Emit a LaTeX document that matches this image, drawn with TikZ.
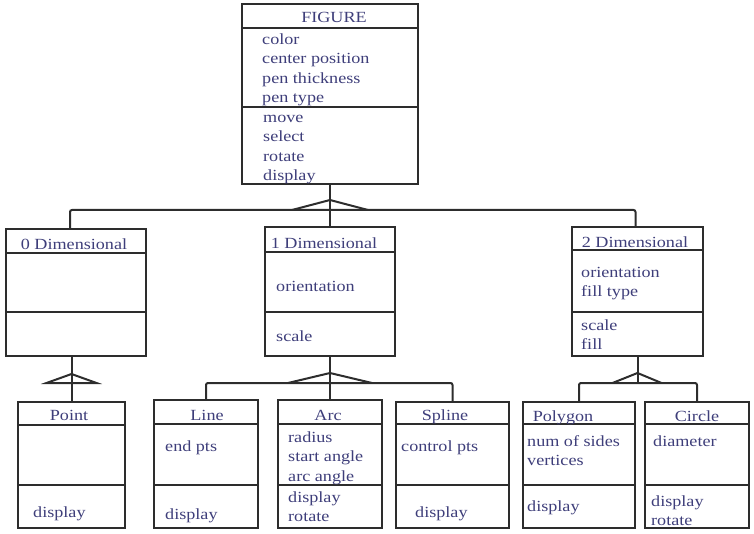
\documentclass[tikz,border=0pt]{standalone}
\usepackage{fontspec}
\setmainfont{Liberation Serif}[FakeStretch=1.17]
\definecolor{tc}{RGB}{62,62,122}
\definecolor{lc}{RGB}{45,45,45}
\tikzset{
  cls/.style={draw=lc, line width=1.7pt, rectangle, inner sep=0pt, outer sep=0pt},
  sepline/.style={draw=lc, line width=1.5pt},
  conn/.style={draw=lc, line width=2pt},
  txt/.style={text=tc, inner sep=0pt, anchor=north west, align=left, font=\fontsize{15.5}{19.5}\selectfont},
  ttl/.style={text=tc, inner sep=0pt, anchor=base, font=\fontsize{15.5}{19.5}\selectfont},
}
\newcommand\clsbox[7]{%
  \node[cls, minimum width={#4-#2}, minimum height={#5-#3}, anchor=north west] (#1) at (#2,#3) {};
  \draw[sepline] (#2,#6) -- (#4,#6);
  \draw[sepline] (#2,#7) -- (#4,#7);}
\newcommand\clstext[4]{\node[txt] (#1) at (#2,{#3-13.65}) {#4};}
\begin{document}
\begin{tikzpicture}[x=1pt,y=-1pt]
\useasboundingbox (0,0) rectangle (754,534);
% boxes
\clsbox{c-figure}{242}{4}{418}{184}{28}{107}
\clsbox{c-zero}{6}{229}{146}{356}{253}{312}
\clsbox{c-one}{265}{227}{395}{356}{252}{312}
\clsbox{c-two}{572}{227}{703}{356}{250}{312}
\clsbox{c-point}{18}{402}{125}{528}{425}{485}
\clsbox{c-line}{154}{400}{258}{528}{424}{485}
\clsbox{c-arc}{278}{400}{382}{528}{424}{485}
\clsbox{c-spline}{396}{402}{509}{528}{424}{485}
\clsbox{c-polygon}{523}{402}{635}{528}{424}{485}
\clsbox{c-circle}{645}{402}{749}{528}{424}{485}
% texts
\node[ttl] (t-figure) at (334,23) {FIGURE};
\clstext{a-figure}{262}{44}{\strut color\\\strut center position\\\strut pen thickness\\\strut pen type}
\clstext{m-figure}{263}{122}{\strut move\\\strut select\\\strut rotate\\\strut display}
\node[ttl] (t-zero) at (74,250) {0 Dimensional};
\node[ttl] (t-one) at (324,249) {1 Dimensional};
\clstext{a-one}{276}{291}{\strut orientation}
\clstext{m-one}{276}{341}{\strut scale}
\node[ttl] (t-two) at (635,248) {2 Dimensional};
\clstext{a-two}{581}{277}{\strut orientation\\\strut fill type}
\clstext{m-two}{581}{330}{\strut scale\\\strut fill}
\node[ttl] (t-point) at (69,420) {Point};
\clstext{m-point}{33}{517}{\strut display}
\node[ttl] (t-line) at (207,420) {Line};
\clstext{a-line}{165}{451}{\strut end pts}
\clstext{m-line}{165}{519}{\strut display}
\node[ttl] (t-arc) at (328,420) {Arc};
\clstext{a-arc}{288}{442}{\strut radius\\\strut start angle\\\strut arc angle}
\clstext{m-arc}{288}{502}{\strut display\\\strut rotate}
\node[ttl] (t-spline) at (445,420) {Spline};
\clstext{a-spline}{401}{451}{\strut control pts}
\clstext{m-spline}{415}{517}{\strut display}
\node[ttl] (t-polygon) at (563,421) {Polygon};
\clstext{a-polygon}{527}{446}{\strut num of sides\\\strut vertices}
\clstext{m-polygon}{527}{511}{\strut display}
\node[ttl] (t-circle) at (697,421) {Circle};
\clstext{a-circle}{653}{446}{\strut diameter}
\clstext{m-circle}{651}{506}{\strut display\\\strut rotate}
% connectors
\coordinate (j0) at (330,210);
\coordinate (j1) at (71.5,383);
\coordinate (j2) at (330,383);
\coordinate (j3) at (637.5,383);
\draw[conn] (c-figure.south) -- (j0);
\draw[conn, rounded corners=2pt] ([xshift=-6pt]c-zero.north) |- (j0) -| ([xshift=-2pt]c-two.north);
\draw[conn] (j0) -- (c-one.north);
\draw[conn] ([xshift=-38pt]j0) -- ([yshift=10pt]j0) -- ([xshift=38pt]j0);
\draw[conn] ([xshift=-4.5pt]c-zero.south) -- (c-point.north);
\draw[conn] ([xshift=-25pt]j1) -- ([yshift=9pt]j1) -- ([xshift=25pt]j1) -- cycle;
\draw[conn] (c-one.south) -- (j2);
\draw[conn, rounded corners=2pt] (c-line.north) |- (j2) -| (c-spline.north);
\draw[conn] (j2) -- (c-arc.north);
\draw[conn] ([xshift=-42pt]j2) -- ([yshift=10pt]j2) -- ([xshift=42pt]j2);
\draw[conn] (c-two.south) -- (j3);
\draw[conn, rounded corners=2pt] (c-polygon.north) |- (j3) -| (c-circle.north);
\draw[conn] ([xshift=-25pt]j3) -- ([yshift=10pt]j3) -- ([xshift=24pt]j3);
\end{tikzpicture}
\end{document}
